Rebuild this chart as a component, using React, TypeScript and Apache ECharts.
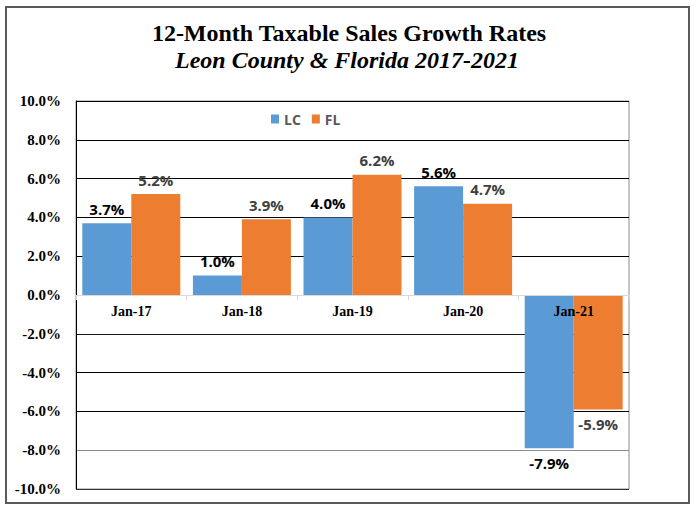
import React, { useEffect, useRef } from 'react';
import * as echarts from 'echarts';

const titleText = '12-Month Taxable Sales Growth Rates';
const subtitleText = 'Leon County & Florida 2017-2021';
const categories = ['Jan-17', 'Jan-18', 'Jan-19', 'Jan-20', 'Jan-21'];
const seriesNames = ['LC', 'FL'];
const lcValues = [3.7, 1.0, 4.0, 5.6, -7.9];
const flValues = [5.2, 3.9, 6.2, 4.7, -5.9];
const yMin = -10;
const yMax = 10;
const yInterval = 2;

const SERIF = '"Liberation Serif", "Times New Roman", serif';
const SANS = '"Open Sans", "Noto Sans", sans-serif';

const GRID_TOP = 101;
const GRID_BOTTOM = 20;
const GRID_HEIGHT = 509 - GRID_TOP - GRID_BOTTOM;

function toItems(values: number[]) {
  return values.map((v) => ({
    value: v,
    label: { position: v < 0 ? 'bottom' : 'top' },
  }));
}

export default function App() {
  const ref = useRef<HTMLDivElement>(null);
  useEffect(() => {
    if (!ref.current) return;
    const chart = echarts.init(ref.current, undefined, { renderer: 'svg' });
    const labelFmt = (p: any) => Number(p.value).toFixed(1) + '%';
    // distance from the bottom of the grid to the zero line
    const zeroOffset = -GRID_HEIGHT * (0 - yMin) / (yMax - yMin);
    chart.setOption({
      animation: false,
      backgroundColor: '#ffffff',
      graphic: [
        {
          type: 'rect',
          shape: { x: 6, y: 7, width: 683, height: 496 },
          style: { fill: 'none', stroke: '#5a5a5a', lineWidth: 2 },
          z: 0,
        },
        {
          type: 'text',
          x: 349,
          y: 33,
          style: {
            text: titleText,
            fill: '#000',
            font: `bold 24px ${SERIF}`,
            textAlign: 'center',
            textVerticalAlign: 'middle',
          },
        },
        {
          type: 'text',
          x: 347,
          y: 60,
          style: {
            text: subtitleText,
            fill: '#000',
            font: `italic bold 24px ${SERIF}`,
            textAlign: 'center',
            textVerticalAlign: 'middle',
          },
        },
      ],
      legend: {
        data: seriesNames,
        left: 266,
        top: 107,
        itemWidth: 8,
        itemHeight: 9,
        itemGap: 11,
        icon: 'rect',
        textStyle: { fontFamily: SANS, fontWeight: 'bold', fontSize: 14, color: '#595959' },
      },
      grid: { left: 76, right: 69, top: GRID_TOP, bottom: GRID_BOTTOM, show: true, borderColor: '#8c8c8c', borderWidth: 1, backgroundColor: 'transparent' },
      xAxis: {
        type: 'category',
        data: categories,
        position: 'bottom',
        offset: zeroOffset,
        z: 10,
        axisLine: { onZero: false, lineStyle: { color: '#d9d9d9', width: 1 } },
        axisTick: { show: true, length: 5, interval: 0, lineStyle: { color: '#d9d9d9' } },
        axisLabel: { interval: 0, margin: 9, color: '#000', fontFamily: SERIF, fontWeight: 'bold', fontSize: 14 },
      },
      yAxis: {
        type: 'value',
        min: yMin,
        max: yMax,
        interval: yInterval,
        axisLine: { show: true, lineStyle: { color: '#000', width: 1 } },
        axisTick: { show: false },
        splitLine: {
          show: true,
          lineStyle: {
            width: 1,
            color: ['#333333', '#8c8c8c', '#000', '#000', '#1a1a1a', '#d9d9d9', '#000', '#000', '#000', '#000', '#000'],
          },
        },
        axisLabel: {
          margin: 15,
          color: '#000',
          fontFamily: SERIF,
          fontWeight: 'bold',
          fontSize: 15,
          formatter: (v: number) => v.toFixed(1) + '%',
        },
      },
      series: [
        {
          name: seriesNames[0],
          type: 'bar',
          data: toItems(lcValues),
          barGap: '0%',
          barCategoryGap: '11.4%',
          itemStyle: { color: '#5B9BD5' },
          label: { show: true, distance: 7, formatter: labelFmt, fontFamily: SANS, fontWeight: 'bold', fontSize: 15, color: '#000' },
        },
        {
          name: seriesNames[1],
          type: 'bar',
          data: toItems(flValues),
          barGap: '0%',
          barCategoryGap: '11.4%',
          itemStyle: { color: '#ED7D31' },
          label: { show: true, distance: 7, formatter: labelFmt, fontFamily: SANS, fontWeight: 'bold', fontSize: 15, color: '#404040' },
        },
      ],
    });
    return () => chart.dispose();
  }, []);
  return <div ref={ref} style={{ position: 'fixed', left: 0, top: 0, width: 698, height: 509 }} />;
}
